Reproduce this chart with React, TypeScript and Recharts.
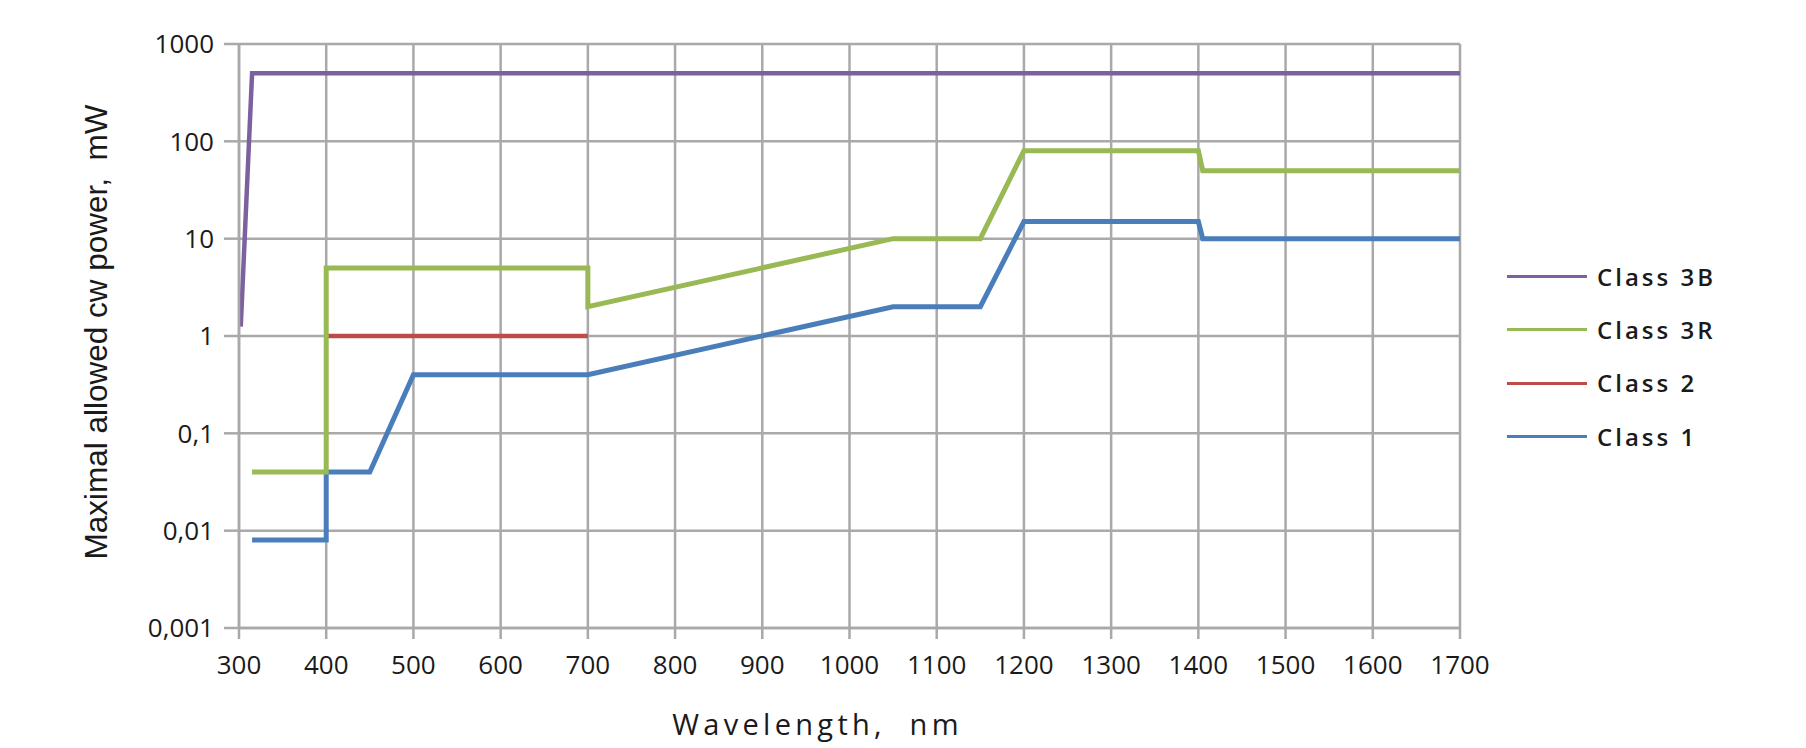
import React from 'react';
import { LineChart, Line, XAxis, YAxis, CartesianGrid, Legend, Label } from 'recharts';

// Axis ticks
const wavelengthTicks = [300, 400, 500, 600, 700, 800, 900, 1000, 1100, 1200, 1300, 1400, 1500, 1600, 1700];
const powerTicks = [0.001, 0.01, 0.1, 1, 10, 100, 1000];
const powerTickLabels = ['0,001', '0,01', '0,1', '1', '10', '100', '1000'];

// Series values (wavelength nm -> max power mW)
const class3BWavelength = [302, 315, 1700];
const class3BPower = [1.25, 500, 500];

const class3RWavelength = [315, 400, 400, 700, 700, 1050, 1150, 1200, 1400, 1405, 1700];
const class3RPower = [0.04, 0.04, 5, 5, 2, 10, 10, 80, 80, 50, 50];

const class2Wavelength = [400, 700];
const class2Power = [1, 1];

const class1Wavelength = [315, 400, 400, 450, 500, 700, 1050, 1150, 1200, 1400, 1405, 1700];
const class1Power = [0.008, 0.008, 0.04, 0.04, 0.4, 0.4, 2, 2, 15, 15, 10, 10];

const zip = (xs: number[], ys: number[]) => xs.map((x, i) => ({ x, y: ys[i] }));

// drawn in this order (bottom to top)
const series = [
  { name: 'Class 1', color: '#4a7ebb', width: 5, data: zip(class1Wavelength, class1Power) },
  { name: 'Class 2', color: '#be4b48', width: 4.5, data: zip(class2Wavelength, class2Power) },
  { name: 'Class 3R', color: '#98b954', width: 5, data: zip(class3RWavelength, class3RPower) },
  { name: 'Class 3B', color: '#7d60a0', width: 4.5, data: zip(class3BWavelength, class3BPower) },
];

const legendOrder = ['Class 3B', 'Class 3R', 'Class 2', 'Class 1'];

const gridColor = '#a9a9a9';
const textColor = '#1a1a1a';
const font = '"Open Sans", sans-serif';

function LegendBox() {
  return (
    <div style={{ position: 'absolute', left: 1507, top: 250 }}>
      {legendOrder.map((name) => {
        const s = series.find((d) => d.name === name)!;
        return (
          <div key={name} style={{ display: 'flex', alignItems: 'center', height: 53.3 }}>
            <div style={{ width: 80, height: 3, background: s.color }} />
            <span
              style={{
                marginLeft: 10,
                fontFamily: font,
                fontSize: 24,
                fontWeight: 600,
                letterSpacing: 3,
                color: textColor,
                lineHeight: 1,
              }}
            >
              {name}
            </span>
          </div>
        );
      })}
    </div>
  );
}

export default function App() {
  return (
    <div style={{ position: 'absolute', left: 0, top: 0, width: 1806, height: 748, background: '#fff' }}>
      <LineChart width={1806} height={748} margin={{ top: 44, right: 346, left: 0, bottom: 0 }}>
        <CartesianGrid stroke={gridColor} strokeWidth={2.5} />
        <XAxis
          type="number"
          dataKey="x"
          domain={[300, 1700]}
          ticks={wavelengthTicks}
          height={120}
          tickSize={11}
          tickMargin={17}
          axisLine={{ stroke: gridColor, strokeWidth: 2.5 }}
          tickLine={{ stroke: gridColor, strokeWidth: 2.5 }}
          tick={{ fill: textColor, fontSize: 26, fontFamily: font }}
          interval={0}
        >
          <Label
            content={({ viewBox }: any) => (
              <text
                x={viewBox.x + viewBox.width / 2 - 32}
                y={viewBox.y + 107}
                textAnchor="middle"
                fontFamily={font}
                fontSize={29}
                letterSpacing={4.3}
                fill={textColor}
              >
                {'Wavelength,\u00a0 nm'}
              </text>
            )}
          />
        </XAxis>
        <YAxis
          type="number"
          scale="log"
          domain={[0.001, 1000]}
          ticks={powerTicks}
          allowDataOverflow
          width={239}
          tickSize={15}
          tickMargin={10}
          axisLine={{ stroke: gridColor, strokeWidth: 2.5 }}
          tickLine={{ stroke: gridColor, strokeWidth: 2.5 }}
          tick={{ fill: textColor, fontSize: 26, fontFamily: font }}
          tickFormatter={(v: number) => powerTickLabels[powerTicks.indexOf(v)] ?? String(v)}
          interval={0}
        >
          <Label
            content={({ viewBox }: any) => {
              const cx = viewBox.x + 96;
              const cy = viewBox.y + viewBox.height / 2 - 4;
              return (
                <text
                  x={cx}
                  y={cy}
                  transform={`rotate(-90 ${cx} ${cy})`}
                  textAnchor="middle"
                  dominantBaseline="central"
                  fontFamily='"Liberation Sans", Arial, sans-serif'
                  fontSize={31.5}
                  fill={textColor}
                >
                  {'Maximal allowed cw power,\u00a0 mW'}
                </text>
              );
            }}
          />
        </YAxis>
        {series.map((s) => (
          <Line
            key={s.name}
            name={s.name}
            data={s.data}
            dataKey="y"
            type="linear"
            stroke={s.color}
            strokeWidth={s.width}
            dot={false}
            activeDot={false}
            isAnimationActive={false}
          />
        ))}
        <Legend layout="horizontal" verticalAlign="middle" content={() => null} />
      </LineChart>
      <LegendBox />
    </div>
  );
}
